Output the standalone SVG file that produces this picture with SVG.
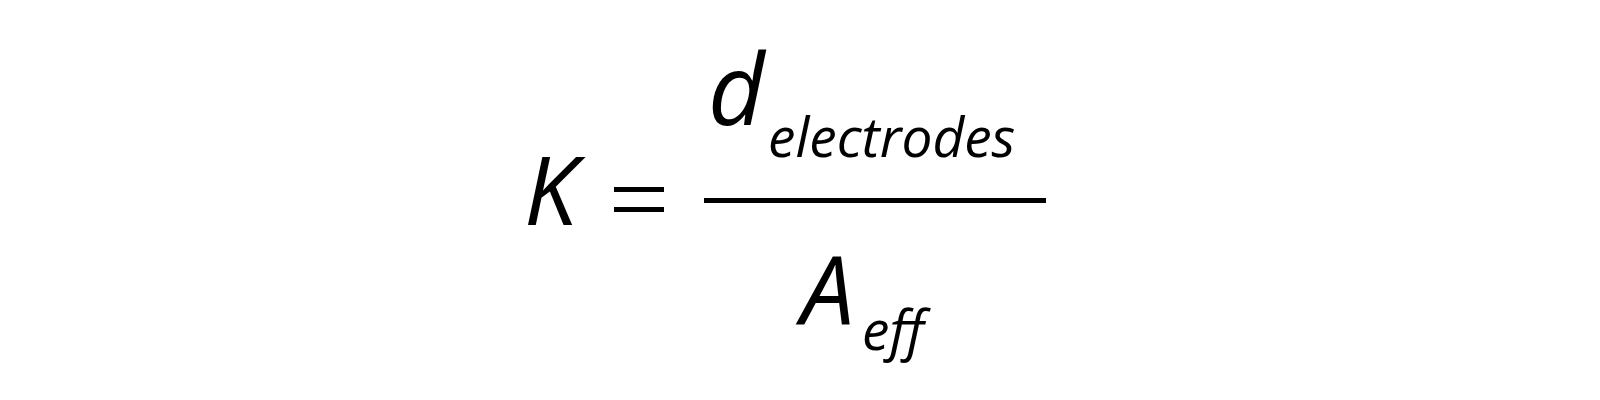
<svg xmlns="http://www.w3.org/2000/svg" width="1600" height="400" viewBox="0 0 1600 400">
<style>
.m{font-family:"Open Sans","DejaVu Sans",sans-serif;font-style:italic;font-weight:500;fill:#000}
</style>
<rect width="1600" height="400" fill="#fff"/>
<g id="lhs"><text class="m" x="524" y="225" font-size="95">K</text></g>
<g id="eq"><rect x="614" y="187" width="50" height="5"/><rect x="614" y="207" width="50" height="5"/></g>
<g id="num"><text class="m" x="708" y="125" font-size="98">d</text><text class="m" x="768" y="157" font-size="55">electrodes</text></g>
<g id="bar"><rect x="704" y="198" width="342" height="5"/></g>
<g id="den"><text class="m" x="801" y="325" font-size="95">A</text><text class="m" x="862" y="350" font-size="55">eff</text></g>
</svg>
